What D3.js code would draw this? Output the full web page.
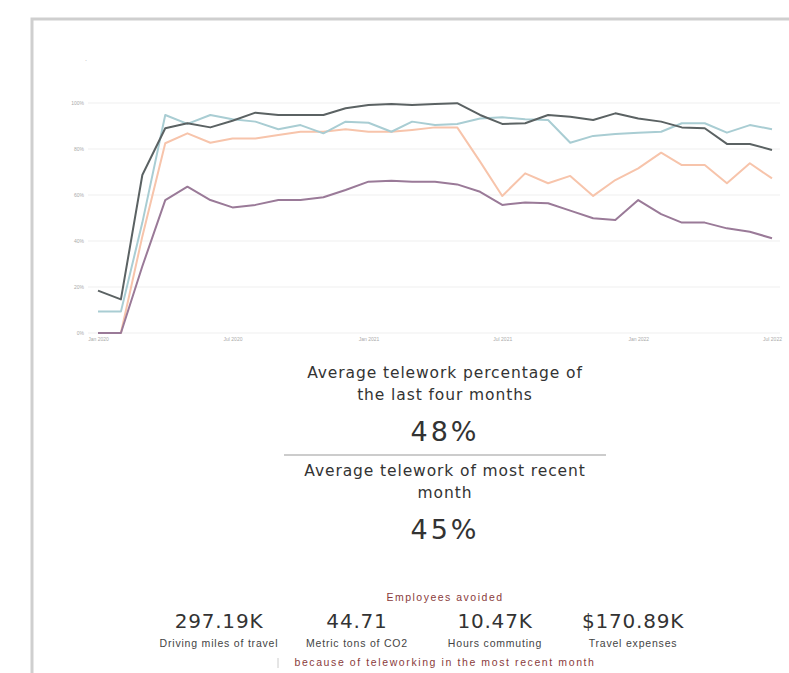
<!DOCTYPE html>
<html>
<head>
<meta charset="utf-8">
<script src="https://cdn.jsdelivr.net/npm/d3@7"></script>
<style>
	body { margin: 0; background: #fff; }
	svg { display: block; }
</style>
</head>
<body>
<div id="chart"></div>
<script>
// monthly telework percentage, Jan 2020 - Jul 2022
const months = d3.range(31).map(i => new Date(2020, i, 1))

const seriesDark = [18.4, 14.6, 68.7, 89, 91.2, 89.4, 92.3, 95.8, 94.8, 94.8, 94.8, 97.7, 99.1, 99.6, 99.1, 99.6, 99.9, 94.8, 90.9, 91.2, 94.8, 94, 92.6, 95.5, 93.3, 91.9, 89.4, 89, 82.2, 82.2, 79.6]
const seriesBlue = [9.3, 9.3, 48, 94.8, 90.9, 94.8, 92.9, 91.9, 88.6, 90.4, 86.8, 91.9, 91.4, 87.5, 91.9, 90.4, 90.9, 93.3, 93.8, 92.9, 92.6, 82.7, 85.7, 86.5, 87.1, 87.5, 91.2, 91.2, 87.1, 90.4, 88.6]
const seriesSalmon = [0, 0, 42, 82.5, 86.8, 82.7, 84.6, 84.6, 86.1, 87.5, 87.5, 88.6, 87.5, 87.5, 88.3, 89.4, 89.4, 74.5, 59.6, 69.4, 65.1, 68.3, 59.6, 66.5, 71.6, 78.4, 73, 73, 65.1, 73.8, 67.2]
const seriesPurple = [0, 0, 29, 57.8, 63.6, 57.8, 54.6, 55.7, 57.8, 57.8, 59, 62.2, 65.8, 66.2, 65.8, 65.8, 64.6, 61.4, 55.7, 56.7, 56.4, 53.2, 49.9, 49.1, 57.8, 51.7, 48, 48, 45.5, 44, 41.2]

const yTicks = [0, 20, 40, 60, 80, 100]
const xTicks = [new Date(2020, 0, 1), new Date(2020, 6, 1), new Date(2021, 0, 1), new Date(2021, 6, 1), new Date(2022, 0, 1), new Date(2022, 6, 1)]

const headline1 = ["Average telework percentage of", "the last four months"]
const headlineValue1 = "48%"
const headline2 = ["Average telework of most recent", "month"]
const headlineValue2 = "45%"

const statValues = ["297.19K", "44.71", "10.47K", "$170.89K"]
const statLabels = ["Driving miles of travel", "Metric tons of CO2", "Hours commuting", "Travel expenses"]

const width = 789
const height = 673

const svg = d3.select('#chart')
	.append("svg")
	.attr("width", width)
	.attr("height", height)

// card frame
svg.append("rect")
	.attr("x", 32)
	.attr("y", 19)
	.attr("width", 800)
	.attr("height", 700)
	.attr("fill", "none")
	.attr("stroke", "#cfcfcf")
	.attr("stroke-width", 3)

svg.append("text")
	.attr("x", 85)
	.attr("y", 63)
	.attr("font-size", 6)
	.attr("fill", "#999")
	.text("·")

const xScale = d3.scaleTime()
	.domain([months[0], months[months.length - 1]])
	.range([98, 772])

const yScale = d3.scaleLinear()
	.domain([0, 100])
	.range([333, 103])

// grid
svg.append("g")
	.attr("class", "grid")
	.selectAll("line")
	.data(yTicks)
	.join("line")
	.attr("x1", 88)
	.attr("x2", 780)
	.attr("y1", d => yScale(d))
	.attr("y2", d => yScale(d))
	.attr("stroke", "#efefef")
	.attr("stroke-width", 1)

const yAxis = d3.axisLeft(yScale)
	.tickValues(yTicks)
	.tickFormat(d => d + "%")
	.tickSize(0)
	.tickPadding(0)

svg.append("g")
	.attr("class", "y-axis")
	.attr("transform", "translate(84 0)")
	.call(yAxis)
	.call(g => g.select(".domain").remove())
	.selectAll("text")
	.attr("font-size", 5)
	.attr("fill", "#aaa")
	.attr("font-family", "Liberation Sans, Arial, sans-serif")

const xAxis = d3.axisBottom(xScale)
	.tickValues(xTicks)
	.tickFormat(d3.timeFormat("%b %Y"))
	.tickSize(0)
	.tickPadding(0)

svg.append("g")
	.attr("class", "x-axis")
	.attr("transform", "translate(0 337)")
	.call(xAxis)
	.call(g => g.select(".domain").remove())
	.selectAll("text")
	.attr("font-size", 5)
	.attr("fill", "#aaa")
	.attr("font-family", "Liberation Sans, Arial, sans-serif")

const line = d3.line()
	.x((d, i) => xScale(months[i]))
	.y(d => yScale(d))

const lines = [
	{ values: seriesSalmon, color: "#f7c4ab" },
	{ values: seriesPurple, color: "#9a7a98" },
	{ values: seriesBlue, color: "#a9cdd3" },
	{ values: seriesDark, color: "#5b6263" },
]

svg.append("g")
	.attr("class", "lines")
	.selectAll("path")
	.data(lines)
	.join("path")
	.attr("d", d => line(d.values))
	.attr("fill", "none")
	.attr("stroke", d => d.color)
	.attr("stroke-width", 2)
	.attr("stroke-linejoin", "round")

// headline figures
const cx = 445
const font = "Liberation Sans, Arial, sans-serif"
const wide = "DejaVu Sans, sans-serif"

svg.append("g")
	.selectAll("text")
	.data(headline1)
	.join("text")
	.attr("x", cx)
	.attr("y", (d, i) => 378 + i * 22)
	.attr("text-anchor", "middle")
	.attr("font-family", wide)
	.attr("font-size", 15.5)
	.attr("letter-spacing", 0.9)
	.attr("fill", "#333")
	.text(d => d)

svg.append("text")
	.attr("x", cx)
	.attr("y", 441)
	.attr("text-anchor", "middle")
	.attr("font-family", wide)
	.attr("font-size", 27)
	.attr("letter-spacing", 3)
	.attr("fill", "#333")
	.text(headlineValue1)

svg.append("line")
	.attr("x1", 284)
	.attr("x2", 606)
	.attr("y1", 455)
	.attr("y2", 455)
	.attr("stroke", "#999")
	.attr("stroke-width", 1)

svg.append("g")
	.selectAll("text")
	.data(headline2)
	.join("text")
	.attr("x", cx)
	.attr("y", (d, i) => 476 + i * 22)
	.attr("text-anchor", "middle")
	.attr("font-family", wide)
	.attr("font-size", 15.5)
	.attr("letter-spacing", 0.9)
	.attr("fill", "#333")
	.text(d => d)

svg.append("text")
	.attr("x", cx)
	.attr("y", 539)
	.attr("text-anchor", "middle")
	.attr("font-family", wide)
	.attr("font-size", 27)
	.attr("letter-spacing", 3)
	.attr("fill", "#333")
	.text(headlineValue2)

// avoided stats
svg.append("text")
	.attr("x", cx)
	.attr("y", 601)
	.attr("text-anchor", "middle")
	.attr("font-family", font)
	.attr("font-size", 10.5)
	.attr("letter-spacing", 1.5)
	.attr("fill", "#8a3b3b")
	.text("Employees avoided")

const statX = d3.scalePoint()
	.domain(statValues)
	.range([219, 633])

svg.append("g")
	.selectAll("text")
	.data(statValues)
	.join("text")
	.attr("x", d => statX(d))
	.attr("y", 628)
	.attr("text-anchor", "middle")
	.attr("font-family", wide)
	.attr("font-size", 20)
	.attr("letter-spacing", 0.8)
	.attr("fill", "#333")
	.text(d => d)

svg.append("g")
	.selectAll("text")
	.data(statLabels)
	.join("text")
	.attr("x", (d, i) => statX(statValues[i]))
	.attr("y", 647)
	.attr("text-anchor", "middle")
	.attr("font-family", font)
	.attr("font-size", 10.5)
	.attr("letter-spacing", 0.8)
	.attr("fill", "#444")
	.text(d => d)

svg.append("line")
	.attr("x1", 278)
	.attr("x2", 278)
	.attr("y1", 658)
	.attr("y2", 668)
	.attr("stroke", "#ccc")

svg.append("text")
	.attr("x", cx)
	.attr("y", 666)
	.attr("text-anchor", "middle")
	.attr("font-family", font)
	.attr("font-size", 10.5)
	.attr("letter-spacing", 1.6)
	.attr("fill", "#8a3b3b")
	.text("because of teleworking in the most recent month")
</script>
</body>
</html>
